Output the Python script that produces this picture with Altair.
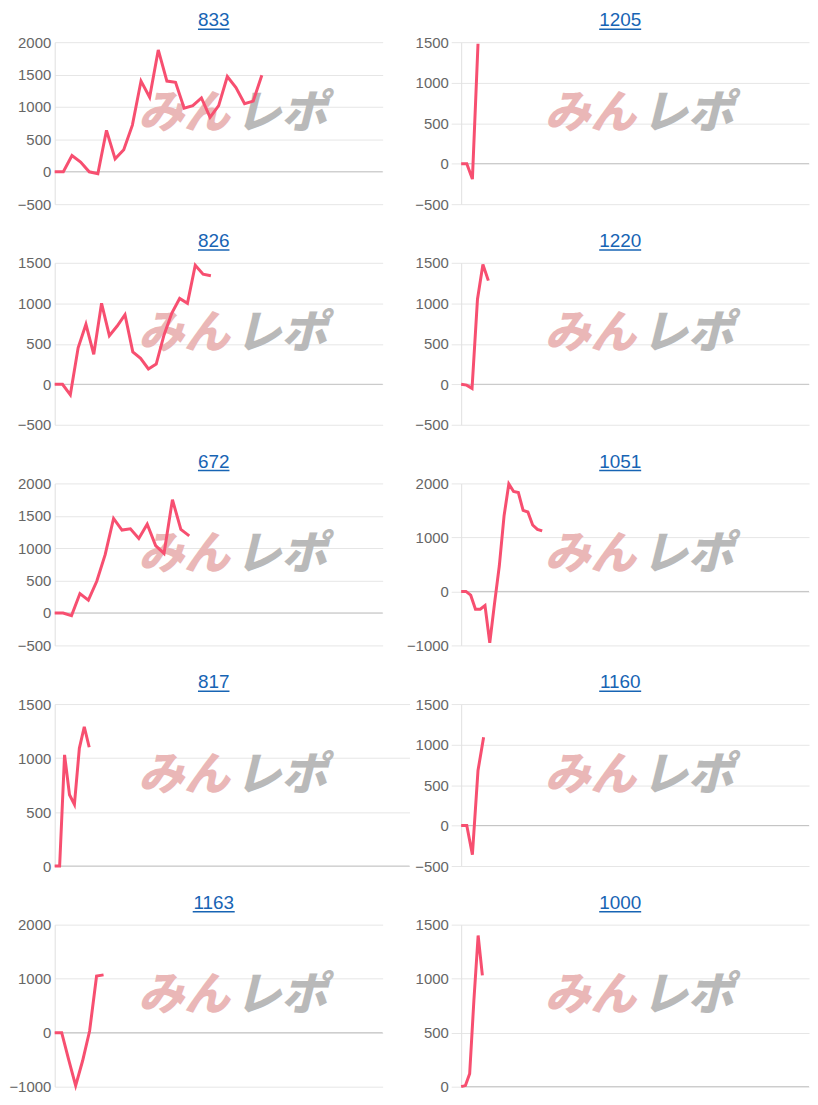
import altair as alt
import pandas as pd

# ---- data ----
TITLES = ["833", "1205", "826", "1220", "672", "1051", "817", "1160", "1163", "1000"]

P833 = [0, 0, 250, 150, 0, -30, 640, 200, 340, 720, 1400, 1150, 1880, 1400, 1380,
        980, 1020, 1140, 840, 1020, 1470, 1300, 1050, 1090, 1490]
P1205 = [0, 0, -190, 1480]
P826 = [0, 0, -130, 450, 740, 370, 1000, 600, 720, 860, 400, 320, 190, 250, 610,
        880, 1060, 1000, 1470, 1360, 1340]
P1220 = [0, -10, -50, 1050, 1480, 1280]
P672 = [0, 0, -40, 300, 200, 490, 900, 1460, 1280, 1300, 1150, 1370, 1040, 920,
        1750, 1290, 1190]
P1051 = [0, 0, -70, -330, -330, -260, -950, -220, 470, 1400, 1990, 1850, 1830,
         1500, 1470, 1230, 1150, 1120]
P817 = [0, 0, 1030, 660, 570, 1090, 1290, 1100]
P1160 = [0, 0, -360, 680, 1090]
P1163 = [0, 0, -500, -980, -520, 30, 1050, 1070]
P1000 = [0, 10, 120, 800, 1400, 1030]

SERIES = [P833, P1205, P826, P1220, P672, P1051, P817, P1160, P1163, P1000]
X_SLOTS = [39, 63, 43, 65, 40, 74, 73, 63, 48, 83]
Y_DOMAINS = [[-500, 2000], [-500, 1500], [-500, 1500], [-500, 1500], [-500, 2000],
             [-1000, 2000], [0, 1500], [-500, 1500], [-1000, 2000], [0, 1500]]
Y_TICKS = [[-500, 0, 500, 1000, 1500, 2000],
           [-500, 0, 500, 1000, 1500],
           [-500, 0, 500, 1000, 1500],
           [-500, 0, 500, 1000, 1500],
           [-500, 0, 500, 1000, 1500, 2000],
           [-1000, 0, 1000, 2000],
           [0, 500, 1000, 1500],
           [-500, 0, 500, 1000, 1500],
           [-1000, 0, 1000, 2000],
           [0, 500, 1000, 1500]]

# ---- style ----
LINE_COLOR = "#f74f70"
TITLE_COLOR = "#1764b4"
GRID = "#e6e6e6"
ZERO = "#c4c4c4"
LEFT_W = [330, 330, 330, 357, 330]
RIGHT_W = 350
H = 163

one = pd.DataFrame({"k": [0]})


def panel(idx):
    vals = SERIES[idx]
    left = idx % 2 == 0
    w = LEFT_W[idx // 2] if left else RIGHT_W
    df = pd.DataFrame({"i": list(range(len(vals))), "v": vals})
    xenc = alt.X("i:Q", scale=alt.Scale(domain=[0, X_SLOTS[idx] - 1], nice=False, zero=False), axis=None)
    axis = alt.Axis(values=Y_TICKS[idx], format="d", title=None, grid=True, gridColor=GRID,
                    domain=True, domainColor="#e0e0e0",
                    ticks=not left, tickSize=10, tickColor=GRID,
                    labelPadding=4 if left else 3)
    yenc = alt.Y("v:Q", scale=alt.Scale(domain=Y_DOMAINS[idx], nice=False, zero=False), axis=axis)

    wm1 = alt.Chart(one).mark_text(text="みん", font="Noto Sans CJK JP", fontSize=46,
                                   fontStyle="italic", fontWeight=900, color="#eab7b7",
                                   align="left", baseline="middle").encode(
        x=alt.value(84), y=alt.value(72))
    wm2 = alt.Chart(one).mark_text(text="レポ", font="Noto Sans CJK JP", fontSize=46,
                                   fontStyle="italic", fontWeight=900, color="#b9b9b9",
                                   align="left", baseline="middle").encode(
        x=alt.value(182), y=alt.value(72))
    zero = alt.Chart(pd.DataFrame({"v": [0]})).mark_rule(color=ZERO, strokeWidth=1).encode(y=yenc)
    line = alt.Chart(df).mark_line(color=LINE_COLOR, strokeWidth=3).encode(x=xenc, y=yenc)
    t = TITLES[idx]
    tw = len(t) * 0.556 * 19
    title = alt.Chart(one).mark_text(text=t, font="Arial", fontSize=19, color=TITLE_COLOR,
                                     align="center", baseline="alphabetic").encode(
        x=alt.value(160), y=alt.value(-16))
    uline = alt.Chart(one).mark_rule(color=TITLE_COLOR, strokeWidth=1.5).encode(
        x=alt.value(160 - tw / 2), x2=alt.value(160 + tw / 2), y=alt.value(-13))
    return alt.layer(wm1, wm2, zero, line, title, uline).properties(width=w, height=H)


chart = alt.concat(*[panel(i) for i in range(10)], columns=2,
                   spacing={"row": 59, "column": 52}, bounds="flush").properties(
    padding={"left": 0, "top": 0, "right": 0, "bottom": 0}
).configure_view(stroke=None).configure_axis(
    labelFont="Arial", labelFontSize=15, labelColor="#666666"
)

chart.save("out.html", embed_options={"renderer": "svg", "actions": False})
